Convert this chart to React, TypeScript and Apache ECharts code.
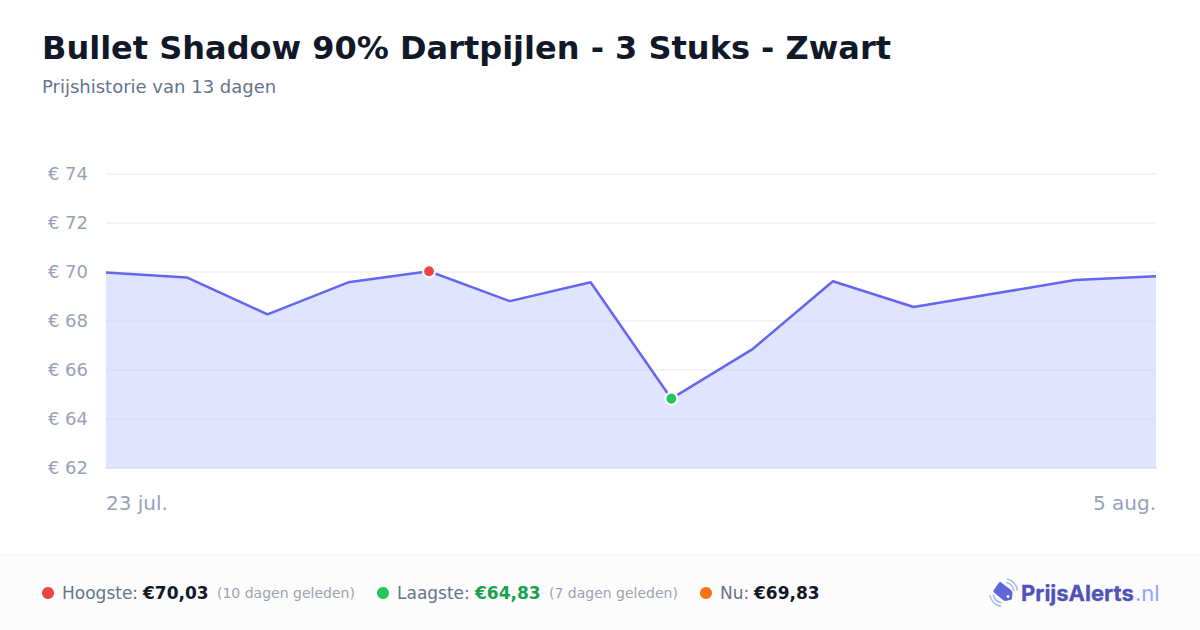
import React, { useEffect, useRef } from "react";
import * as echarts from "echarts";

const dates = ["23 jul.", "24 jul.", "25 jul.", "26 jul.", "27 jul.", "28 jul.", "29 jul.", "30 jul.", "31 jul.", "1 aug.", "2 aug.", "3 aug.", "4 aug.", "5 aug."];
const prices = [69.98, 69.78, 68.27, 69.58, 70.03, 68.81, 69.58, 64.83, 66.84, 69.62, 68.57, 69.12, 69.67, 69.83];
const highIndex = 4;
const lowIndex = 7;
const FONT = "DejaVu Sans";

echarts.graphic.registerShape(
  "pa-tag",
  echarts.graphic.extendPath(
    "M1000.5 582 L1011 590 Q1012.5 591 1012.5 593 L1012 598 Q1012 600 1010 600 L1005.5 601 Q1004 601 1003 600 L994 592.5 Q993 591.5 993.5 590.5 L999 582.5 Q999.7 581.6 1000.5 582 Z",
    {}
  )
);

const t = (x: number, y: number, text: string, size: number, fill: string, weight: any = "normal", family = FONT) => ({
  type: "text",
  x,
  y,
  silent: true,
  style: { text, fontSize: size, fill, fontWeight: weight, fontFamily: family, textVerticalAlign: "middle" },
});

const wave = (r: number, startAngle: number, endAngle: number) => ({
  type: "arc",
  silent: true,
  shape: { cx: 1003.5, cy: 592.5, r, startAngle, endAngle },
  style: { stroke: "#a5b4fc", lineWidth: 1.5, fill: "none" },
});

export default function App() {
  const ref = useRef<HTMLDivElement>(null);
  useEffect(() => {
    document.body.style.margin = "0";
    const chart = echarts.init(ref.current!, undefined, { renderer: "svg" });
    chart.setOption({
      animation: false,
      backgroundColor: "#ffffff",
      grid: { left: 106, right: 44, top: 174, height: 294, containLabel: false },
      xAxis: {
        type: "category",
        data: dates,
        boundaryGap: false,
        axisLine: { show: true, lineStyle: { color: "#e5e7eb", width: 2 } },
        axisTick: { show: false },
        axisLabel: {
          interval: (i: number) => i === 0 || i === dates.length - 1,
          alignMinLabel: "left",
          alignMaxLabel: "right",
          color: "#94a3b8",
          fontSize: 20,
          fontFamily: FONT,
          margin: 25,
        },
        splitLine: { show: false },
      },
      yAxis: {
        type: "value",
        min: 62,
        max: 74,
        interval: 2,
        axisLine: { show: false },
        axisTick: { show: false },
        axisLabel: { formatter: (v: number) => "€ " + v, color: "#94a3b8", fontSize: 18, fontFamily: FONT, margin: 18, verticalAlign: "bottom", lineHeight: 2 },
        splitLine: { show: true, lineStyle: { color: "#f3f4f6", width: 2 } },
      },
      series: [
        {
          type: "line",
          data: prices.map((v, i) => {
            if (i === highIndex || i === lowIndex) {
              return {
                value: v,
                symbol: "circle",
                symbolSize: 12,
                itemStyle: { color: i === highIndex ? "#ef4444" : "#22c55e", borderColor: "#ffffff", borderWidth: 2 },
              };
            }
            return { value: v, symbol: "none" };
          }),
          showSymbol: true,
          smooth: false,
          lineStyle: { color: "#6366f1", width: 2.5 },
          areaStyle: { color: "rgba(203,210,253,0.6)", opacity: 1 },
          z: 3,
        },
      ],
      graphic: [
        { type: "rect", z: -10, silent: true, shape: { x: 0, y: 555, width: 1200, height: 75 }, style: { fill: "#fcfcfd" } },
        { type: "rect", z: -9, silent: true, shape: { x: 0, y: 554, width: 1200, height: 1 }, style: { fill: "#f3f4f6" } },
        t(42, 48, "Bullet Shadow 90% Dartpijlen - 3 Stuks - Zwart", 32, "#111827", "bold"),
        t(42, 86.5, "Prijshistorie van 13 dagen", 18, "#64748b"),
        { type: "circle", silent: true, shape: { cx: 48, cy: 593, r: 6 }, style: { fill: "#ef4444" } },
        t(62, 593, "Hoogste:", 17, "#64748b"),
        t(143, 593, "€70,03", 17, "#111827", "bold"),
        t(217, 593, "(10 dagen geleden)", 14, "#9ca3af"),
        { type: "circle", silent: true, shape: { cx: 383, cy: 593, r: 6 }, style: { fill: "#22c55e" } },
        t(397, 593, "Laagste:", 17, "#64748b"),
        t(475, 593, "€64,83", 17, "#16a34a", "bold"),
        t(549, 593, "(7 dagen geleden)", 14, "#9ca3af"),
        { type: "circle", silent: true, shape: { cx: 706, cy: 593, r: 6 }, style: { fill: "#f97316" } },
        t(720, 593, "Nu:", 17, "#64748b"),
        t(754, 593, "€69,83", 17, "#111827", "bold"),
        { type: "pa-tag", silent: true, style: { fill: "#5f67d8" } },
        { type: "circle", silent: true, shape: { cx: 1008, cy: 596.5, r: 1.5 }, style: { fill: "#ffffff" } },
        wave(10.5, -1.3, -0.15),
        wave(14, -1.3, -0.15),
        wave(10.5, 1.75, 2.95),
        wave(14, 1.75, 2.95),
        {
          type: "text",
          x: 1021,
          y: 593,
          silent: true,
          style: { text: "PrijsAlerts", fontSize: 22, fill: "#4f52b8", fontWeight: "bold", fontFamily: "Inter", textVerticalAlign: "middle", stroke: "#4f52b8", lineWidth: 0.3 },
        },
        t(1135, 593, ".nl", 22, "#93a5f5", "normal", "Inter"),
      ],
    });
    return () => chart.dispose();
  }, []);
  return <div ref={ref} style={{ width: 1200, height: 630 }} />;
}
